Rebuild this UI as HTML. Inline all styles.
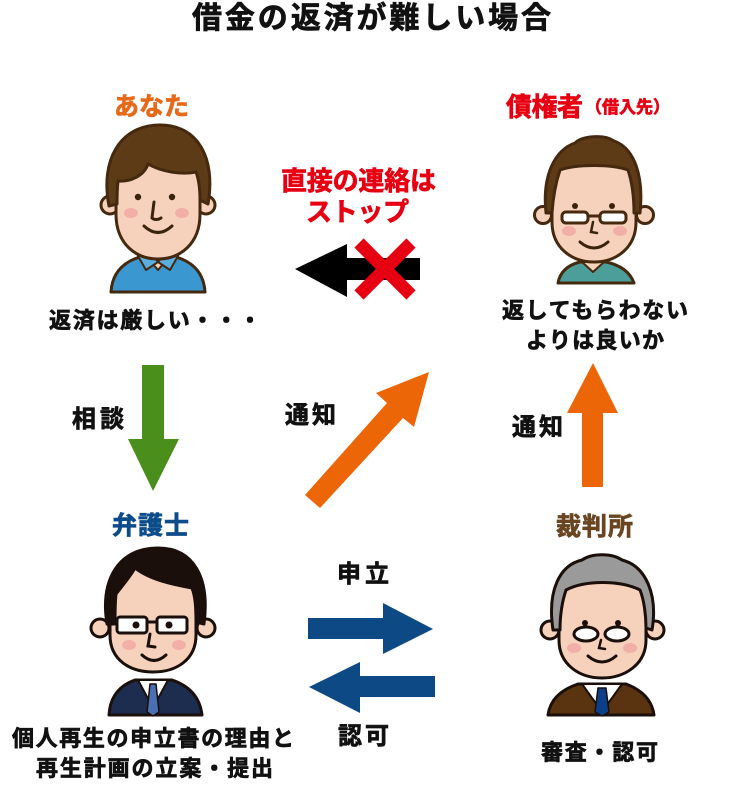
<!DOCTYPE html>
<html><head><meta charset="utf-8">
<style>
html,body{margin:0;padding:0;background:#fff;}
svg{display:block;}
text{font-family:"Liberation Sans","Noto Sans CJK JP",sans-serif;font-weight:bold;paint-order:stroke;stroke-width:0.7;}
</style></head>
<body>
<svg width="752" height="793" viewBox="0 0 752 793" xmlns="http://www.w3.org/2000/svg">
<rect width="752" height="793" fill="#fff"/>

<!-- Title -->
<text x="192" y="28" font-size="30" fill="#111" stroke="#111" textLength="359" lengthAdjust="spacing">借金の返済が難しい場合</text>

<!-- Labels -->
<text x="114" y="115" font-size="25" fill="#e8691a" stroke="#e8691a" textLength="75" lengthAdjust="spacing">あなた</text>
<text x="506" y="116" font-size="26" fill="#e60012" stroke="#e60012" textLength="77" lengthAdjust="spacing">債権者</text>
<text x="585" y="113" font-size="17" fill="#e60012" stroke="#e60012" textLength="85" lengthAdjust="spacing">（借入先）</text>

<text x="281" y="190" font-size="26" fill="#e60012" stroke="#e60012" textLength="155" lengthAdjust="spacing">直接の連絡は</text>
<text x="306" y="221" font-size="26" fill="#e60012" stroke="#e60012" textLength="103" lengthAdjust="spacing">ストップ</text>

<text x="49" y="328" font-size="22" fill="#111" stroke="#111" textLength="212" lengthAdjust="spacing">返済は厳しい・・・</text>
<text x="502" y="318" font-size="22" fill="#111" stroke="#111" textLength="186" lengthAdjust="spacing">返してもらわない</text>
<text x="526" y="348" font-size="22" fill="#111" stroke="#111" textLength="138" lengthAdjust="spacing">よりは良いか</text>

<text x="72" y="427" font-size="24" fill="#111" stroke="#111" textLength="52" lengthAdjust="spacing">相談</text>
<text x="285" y="423" font-size="24" fill="#111" stroke="#111" textLength="51" lengthAdjust="spacing">通知</text>
<text x="512" y="435" font-size="24" fill="#111" stroke="#111" textLength="51" lengthAdjust="spacing">通知</text>

<text x="112" y="534" font-size="25" fill="#0d4c8a" stroke="#0d4c8a" textLength="77" lengthAdjust="spacing">弁護士</text>
<text x="556" y="535" font-size="25" fill="#6a4522" stroke="#6a4522" textLength="77" lengthAdjust="spacing">裁判所</text>

<text x="337" y="582" font-size="24" fill="#111" stroke="#111" textLength="52" lengthAdjust="spacing">申立</text>
<text x="338" y="744" font-size="24" fill="#111" stroke="#111" textLength="51" lengthAdjust="spacing">認可</text>

<text x="12" y="746" font-size="22" fill="#111" stroke="#111" textLength="282" lengthAdjust="spacing">個人再生の申立書の理由と</text>
<text x="36" y="776" font-size="22" fill="#111" stroke="#111" textLength="237" lengthAdjust="spacing">再生計画の立案・提出</text>
<text x="541" y="760" font-size="22" fill="#111" stroke="#111" textLength="117" lengthAdjust="spacing">審査・認可</text>

<!-- Arrows -->
<polygon points="142,365 164,365 164,439 179,439 153,491 128,439 142,439" fill="#4a8e1c"/>
<polygon points="295,269 347,244 347,258 420,258 420,280 347,280 347,297" fill="#000"/>
<line x1="359" y1="243" x2="411" y2="295" stroke="#e60012" stroke-width="13"/>
<line x1="411" y1="243" x2="359" y2="295" stroke="#e60012" stroke-width="13"/>
<polygon points="429,372 414,427 403,418 320,508 305,495 387,403 376,393" fill="#ec6608"/>
<polygon points="593,363 618,413 603,413 603,487 582,487 582,413 567,413" fill="#ec6608"/>
<polygon points="308,618 383,618 383,603 433,629 383,654 383,639 308,639" fill="#0d4a85"/>
<polygon points="435,676 360,676 360,662 309,687 360,713 360,697 435,697" fill="#0d4a85"/>

<!-- Person 1: あなた -->
<g stroke="#45290f" stroke-width="3" stroke-linejoin="round">
  <path d="M111,292 C112,276 120,263 140,257 L176,257 C196,263 204,276 205,292 Z" fill="#3a97d0"/>
  <path d="M146,256 L158,270 L170,256 Z" fill="#f6d2bd" stroke-width="2"/>
  <path d="M138,256 L146,270 L158,262 L150,252 Z" fill="#5aaee0" stroke-width="2"/>
  <path d="M178,256 L170,270 L158,262 L166,252 Z" fill="#5aaee0" stroke-width="2"/>
  <circle cx="110" cy="205" r="9" fill="#f6d2bd"/>
  <circle cx="206" cy="205" r="9" fill="#f6d2bd"/>
  <path d="M116,214 L116,175 C116,155 135,150 158,150 C181,150 200,155 200,175 L200,214 C200,244 180,259 158,259 C136,259 116,244 116,214 Z" fill="#f6d2bd"/>
  <path d="M109,206 C100,160 120,125 160,125 C198,125 216,158 208,204 L200,200 C200,190 199,180 196,172 C182,175 162,172 148,164 C144,176 130,182 118,181 C117,190 117,198 117,204 Z" fill="#5e3b17"/>
</g>
<circle cx="138" cy="197" r="3.2" fill="#3a230d"/>
<circle cx="172" cy="197" r="3.2" fill="#3a230d"/>
<path d="M154,202 L152,218 C154,220 158,220 161,218" fill="none" stroke="#3a230d" stroke-width="3" stroke-linecap="round"/>
<path d="M144,226 Q158,239 172,226" fill="none" stroke="#3a230d" stroke-width="3" stroke-linecap="round"/>
<ellipse cx="131" cy="213" rx="7" ry="5" fill="#f0a0a0" opacity="0.7"/>
<ellipse cx="182" cy="213" rx="7" ry="5" fill="#f0a0a0" opacity="0.7"/>

<!-- Person 2: 債権者 -->
<g stroke="#45290f" stroke-width="3" stroke-linejoin="round">
  <path d="M558,283 C560,272 568,265 580,262 L606,262 C620,265 630,272 634,283 Z" fill="#4c9e9a"/>
  <path d="M582,262 L593,272 L604,262 Z" fill="#f6d2bd" stroke-width="2"/>
  <circle cx="543" cy="215" r="8.5" fill="#f6d2bd"/>
  <circle cx="645" cy="215" r="8.5" fill="#f6d2bd"/>
  <path d="M552,222 L552,185 C552,165 570,158 594,158 C618,158 636,165 636,185 L636,222 C636,248 616,262 594,262 C572,262 552,248 552,222 Z" fill="#f6d2bd"/>
  <path d="M546,213 C542,175 555,150 575,143 C582,136 604,134 614,141 C634,148 644,175 640,213 L634,213 C634,198 632,182 628,170 C612,164 576,164 560,170 C556,182 553,198 552,213 Z" fill="#5e3b17"/>
  <rect x="562" y="212" width="26" height="11" rx="4" fill="#fff"/>
  <rect x="600" y="212" width="26" height="11" rx="4" fill="#fff"/>
  <line x1="588" y1="216" x2="600" y2="216"/>
</g>
<circle cx="575" cy="206" r="3" fill="#3a230d"/>
<circle cx="612" cy="206" r="3" fill="#3a230d"/>
<path d="M593,222 L591,232 L597,233" fill="none" stroke="#3a230d" stroke-width="2.5" stroke-linecap="round"/>
<path d="M580,242 Q594,254 608,242" fill="none" stroke="#3a230d" stroke-width="3" stroke-linecap="round"/>
<ellipse cx="569" cy="231" rx="7" ry="5" fill="#f0a0a0" opacity="0.7"/>
<ellipse cx="620" cy="231" rx="7" ry="5" fill="#f0a0a0" opacity="0.7"/>

<!-- Person 3: 弁護士 -->
<g stroke="#1a0f0a" stroke-width="3" stroke-linejoin="round">
  <path d="M109,715 C110,698 118,686 135,680 L172,680 C190,686 200,698 202,715 Z" fill="#1c2d4f"/>
  <path d="M138,680 L153,708 L168,680 Z" fill="#fff" stroke-width="2"/>
  <path d="M150,684 L156,684 L159,712 L153,716 L147,712 Z" fill="#4a6fb5" stroke-width="1.5"/>
  <circle cx="100" cy="628" r="9" fill="#f6d2bd"/>
  <circle cx="206" cy="628" r="9" fill="#f6d2bd"/>
  <path d="M110,635 L110,595 C110,570 125,561 153,561 C181,561 196,570 196,595 L196,635 C196,660 176,672 153,672 C130,672 110,660 110,635 Z" fill="#f6d2bd"/>
  <path d="M107,624 C100,580 118,548 158,548 C194,548 210,578 204,624 L196,622 C196,605 195,596 192,588 C175,585 150,580 135,568 C130,577 122,586 116,594 C115,603 115,612 115,624 Z" fill="#1a0f0a"/>
  <rect x="117" y="617" width="30" height="16" rx="3" fill="#fff"/>
  <rect x="157" y="617" width="30" height="16" rx="3" fill="#fff"/>
  <line x1="147" y1="622" x2="157" y2="622"/>
</g>
<circle cx="136" cy="625" r="3.5" fill="#1a0f0a"/>
<circle cx="169" cy="625" r="3.5" fill="#1a0f0a"/>
<path d="M150,634 L148,646 L155,647" fill="none" stroke="#1a0f0a" stroke-width="3" stroke-linecap="round"/>
<path d="M142,655 Q154,666 166,655" fill="none" stroke="#1a0f0a" stroke-width="3" stroke-linecap="round"/>
<ellipse cx="129" cy="645" rx="7" ry="5" fill="#f0a0a0" opacity="0.7"/>
<ellipse cx="179" cy="645" rx="7" ry="5" fill="#f0a0a0" opacity="0.7"/>

<!-- Person 4: 裁判所 -->
<g stroke="#1a0f0a" stroke-width="3" stroke-linejoin="round">
  <path d="M548,715 C550,700 560,690 578,684 L626,684 C642,690 652,700 654,715 Z" fill="#5a3410"/>
  <path d="M582,684 L602,712 L622,684 Z" fill="#fff" stroke-width="2"/>
  <path d="M598,688 L606,688 L609,712 L602,716 L595,712 Z" fill="#0c3f8a" stroke-width="1.5"/>
  <circle cx="550" cy="630" r="9" fill="#f6d2bd"/>
  <circle cx="655" cy="630" r="9" fill="#f6d2bd"/>
  <path d="M559,640 L559,602 C559,580 575,573 602,573 C629,573 646,580 646,602 L646,640 C646,665 624,678 602,678 C580,678 559,665 559,640 Z" fill="#f6d2bd"/>
  <path d="M553,630 C547,590 560,565 582,560 C592,553 612,553 622,560 C646,566 658,595 652,630 L646,628 C646,615 644,600 640,590 C620,580 585,580 566,590 C562,602 560,615 560,630 Z" fill="#9a9a9a"/>
  <ellipse cx="586" cy="634" rx="12" ry="7" fill="#fff"/>
  <ellipse cx="617" cy="634" rx="12" ry="7" fill="#fff"/>
</g>
<circle cx="585" cy="623" r="3" fill="#1a0f0a"/>
<circle cx="618" cy="623" r="3" fill="#1a0f0a"/>
<path d="M601,640 L599,648 L605,649" fill="none" stroke="#1a0f0a" stroke-width="2.5" stroke-linecap="round"/>
<path d="M588,656 Q602,668 616,656" fill="none" stroke="#1a0f0a" stroke-width="3" stroke-linecap="round"/>
<ellipse cx="574" cy="648" rx="7" ry="5" fill="#f0a0a0" opacity="0.7"/>
<ellipse cx="630" cy="648" rx="7" ry="5" fill="#f0a0a0" opacity="0.7"/>
</svg>
</body></html>
